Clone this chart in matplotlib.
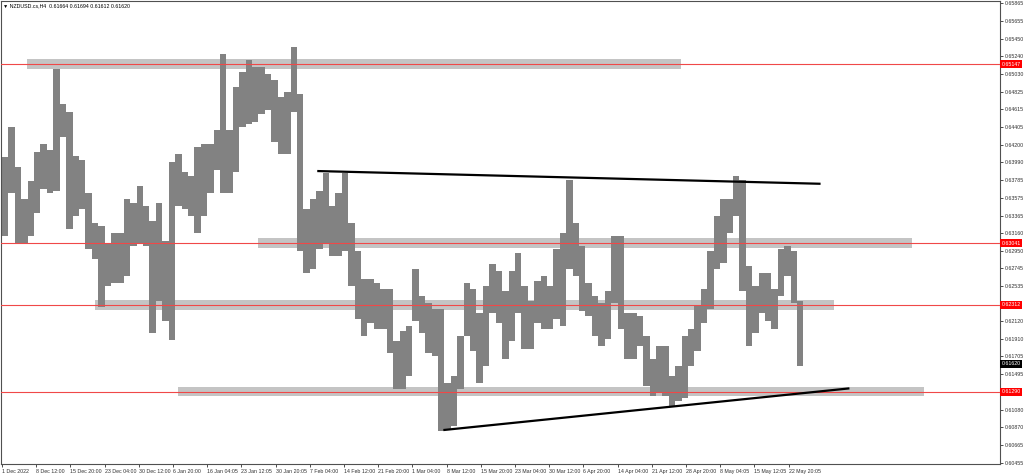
import matplotlib.pyplot as plt
from matplotlib.transforms import blended_transform_factory

plt.rcParams['font.family'] = ['Liberation Sans', 'DejaVu Sans']

# NZDUSD H4, 1 Dec 2022 - 24 May 2023, read off the chart as one block per
# trading day (6 H4 bars): block high / block low
highs = [0.64059, 0.64411, 0.63942, 0.63555, 0.63766, 0.64118, 0.64212, 0.64141,
         0.65092, 0.64681, 0.64587, 0.64071, 0.64024, 0.63625, 0.63273, 0.63238,
         0.63038, 0.63156, 0.63156, 0.63555, 0.63508, 0.63707, 0.63473, 0.63297,
         0.63508, 0.63062, 0.64001, 0.64094, 0.63883, 0.63825, 0.64177, 0.64212,
         0.64212, 0.64376, 0.65268, 0.64376, 0.64881, 0.65057, 0.65197, 0.65115,
         0.65115, 0.65033, 0.64963, 0.64763, 0.64822, 0.65350, 0.64798, 0.63437,
         0.63555, 0.63649, 0.63871, 0.63473, 0.63625, 0.63871, 0.63273, 0.62944,
         0.62616, 0.62616, 0.62569, 0.62499, 0.62499, 0.61888, 0.62006, 0.62064,
         0.62733, 0.62416, 0.62334, 0.62264, 0.62264, 0.61396, 0.61478, 0.61947,
         0.62569, 0.62499, 0.62217, 0.62534, 0.62792, 0.62710, 0.62475, 0.62710,
         0.62921, 0.62534, 0.62358, 0.62592, 0.62651, 0.62534, 0.62968, 0.63156,
         0.63789, 0.63273, 0.63003, 0.62569, 0.62416, 0.62334, 0.62475, 0.63121,
         0.63121, 0.62217, 0.62217, 0.62182, 0.61947, 0.61677, 0.61830, 0.61830,
         0.61478, 0.61595, 0.61947, 0.62029, 0.62299, 0.62499, 0.62944, 0.63355,
         0.63555, 0.63555, 0.63825, 0.63789, 0.62768, 0.62534, 0.62686, 0.62686,
         0.62499, 0.62968, 0.63003, 0.62944, 0.62358]
lows = [0.63121, 0.63625, 0.63027, 0.63038, 0.63121, 0.63390, 0.63672, 0.63625,
        0.63649, 0.64294, 0.63203, 0.63355, 0.63437, 0.62968, 0.62851, 0.62287,
        0.62534, 0.62569, 0.62569, 0.62651, 0.63003, 0.63038, 0.63003, 0.61982,
        0.62358, 0.62123, 0.61900, 0.63473, 0.63437, 0.63355, 0.63156, 0.63355,
        0.63625, 0.63907, 0.63625, 0.63625, 0.63883, 0.64411, 0.64446, 0.64470,
        0.64564, 0.64611, 0.64235, 0.64094, 0.64094, 0.64587, 0.62944, 0.62686,
        0.62733, 0.62968, 0.63038, 0.62886, 0.62886, 0.62944, 0.62534, 0.62147,
        0.61947, 0.62100, 0.62029, 0.62029, 0.61748, 0.61325, 0.61325, 0.61478,
        0.62123, 0.61982, 0.61748, 0.61712, 0.60832, 0.60856, 0.60891, 0.61325,
        0.61947, 0.61771, 0.61396, 0.61595, 0.62217, 0.62100, 0.61677, 0.61888,
        0.62217, 0.61795, 0.61795, 0.62100, 0.62029, 0.62029, 0.62147, 0.62064,
        0.62733, 0.62651, 0.62240, 0.62182, 0.61947, 0.61830, 0.61912, 0.62334,
        0.62029, 0.61677, 0.61677, 0.61830, 0.61360, 0.61243, 0.61278, 0.61243,
        0.61126, 0.61184, 0.61220, 0.61595, 0.61771, 0.62100, 0.62264, 0.62733,
        0.62804, 0.63156, 0.63355, 0.62475, 0.61830, 0.61982, 0.62217, 0.62123,
        0.62029, 0.62416, 0.62651, 0.62334, 0.61595]
bars_per_block = 6

# horizontal levels (red lines) and the grey zones around them (bar index from/to)
levels = [0.65147, 0.63041, 0.62312, 0.61290]
zone_from = [23, 240, 87, 165]
zone_to = [635, 852, 779, 863]
zone_half = 0.00056

# trend lines: (bar, price) end points
upper_line = [(295, 0.63889), (766, 0.63739)]
lower_line = [(413, 0.60838), (793, 0.61329)]

last_price = 0.61620
header = '\u25bc NZDUSD.cs,H4  0.61664 0.61694 0.61612 0.61620'

date_labels = ['1 Dec 2022', '8 Dec 12:00', '15 Dec 20:00', '23 Dec 04:00',
               '30 Dec 12:00', '6 Jan 20:00', '16 Jan 04:05', '23 Jan 12:05',
               '30 Jan 20:05', '7 Feb 04:00', '14 Feb 12:00', '21 Feb 20:00',
               '1 Mar 04:00', '8 Mar 12:00', '15 Mar 20:00', '23 Mar 04:00',
               '30 Mar 12:00', '6 Apr 20:00', '14 Apr 04:00', '21 Apr 12:00',
               '28 Apr 20:00', '8 May 04:05', '15 May 12:05', '22 May 20:05']
bars_per_label = 32

price_ticks = [0.65865, 0.65655, 0.65450, 0.65240, 0.65030, 0.64825, 0.64615,
               0.64405, 0.64200, 0.63990, 0.63785, 0.63575, 0.63365, 0.63160,
               0.62950, 0.62745, 0.62535, 0.62120, 0.61910, 0.61705, 0.61495,
               0.61080, 0.60870, 0.60665, 0.60455]

fig = plt.figure(figsize=(10.24, 4.75), dpi=100)
ax = fig.add_axes([1 / 1024, 1 - 463.5 / 475, 999 / 1024, 462.5 / 475])
ax.set_xlim(-0.94, 933.9)
ax.set_ylim(0.60444, 0.65892)

# grey zones
for lvl, a, b in zip(levels, zone_from, zone_to):
    ax.fill_between([a, b], lvl - zone_half, lvl + zone_half,
                    color='#c4c4c4', lw=0, zorder=1)

# price blocks
xs = [k * bars_per_block for k in range(len(highs))]
ax.bar(xs, [h - l for h, l in zip(highs, lows)], bottom=lows,
       width=bars_per_block, align='edge', color='#828282', lw=0, zorder=2)

for lvl in levels:
    ax.axhline(lvl, color='#f04848', lw=0.8, zorder=3)

for ln in (upper_line, lower_line):
    ax.plot([p[0] for p in ln], [p[1] for p in ln], color='black', lw=1.6,
            solid_capstyle='butt', zorder=4)

# axes styling (MT4 look)
for s in ax.spines.values():
    s.set_color('#505050')
    s.set_linewidth(0.8)

ax.yaxis.tick_right()
ax.set_yticks(price_ticks, [f'{p:.5f}' for p in price_ticks])
ax.tick_params(axis='y', labelsize=3.8, length=2, width=0.6, pad=1.5,
               colors='#303030')

ax.set_xticks([i * bars_per_label for i in range(len(date_labels))], date_labels)
ax.tick_params(axis='x', labelsize=3.8, length=2.5, width=0.6, pad=1.2,
               colors='#303030')
for lbl in ax.get_xticklabels():
    lbl.set_ha('left')

trans = blended_transform_factory(ax.transAxes, ax.transData)
for lvl in levels:
    ax.text(1.0015, lvl, f'{lvl:.5f}', transform=trans, ha='left', va='center',
            fontsize=3.8, color='white', clip_on=False,
            bbox=dict(boxstyle='square,pad=0.3', fc='#ff0000', ec='none'))
ax.text(1.0015, last_price, f'{last_price:.5f}', transform=trans, ha='left',
        va='center', fontsize=3.8, color='white', clip_on=False,
        bbox=dict(boxstyle='square,pad=0.3', fc='black', ec='none'))

fig.text(3 / 1024, 1 - 5.5 / 475, header, fontsize=3.8, color='black',
         va='center', ha='left')

fig.savefig('out.png', dpi=100)
